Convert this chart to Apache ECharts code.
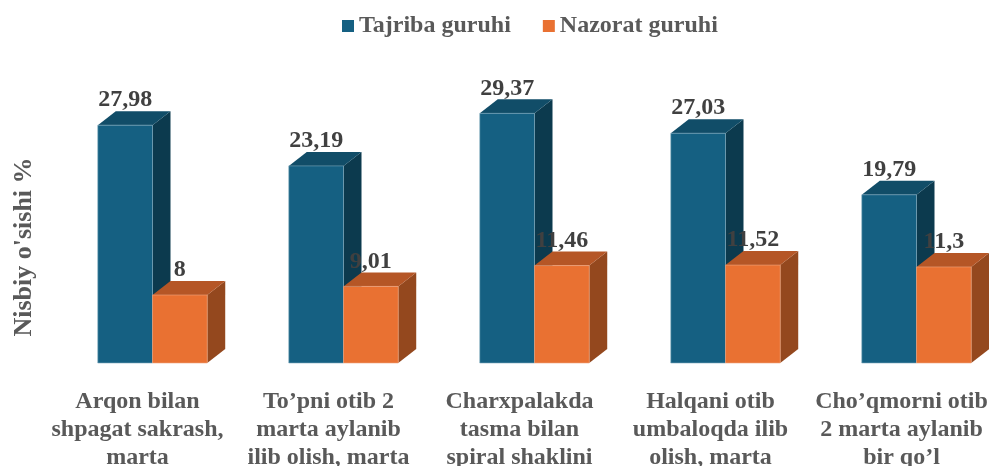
<!DOCTYPE html>
<html lang="en">
<head>
  <meta charset="UTF-8">
  <title>Nisbiy o'sishi</title>
  <script src="https://cdn.jsdelivr.net/npm/echarts@6/dist/echarts.min.js"></script>
  <style>
    html, body { margin: 0; padding: 0; background: #fff; }
    #chart { width: 989px; height: 466px; }
  </style>
</head>
<body>
  <div id="chart"></div>
  <script>
    var categories = [
      'Arqon bilan\nshpagat sakrash,\nmarta',
      'To’pni otib 2\nmarta aylanib\nilib olish, marta',
      'Charxpalakda\ntasma bilan\nspiral shaklini',
      'Halqani otib\numbaloqda ilib\nolish, marta',
      'Cho’qmorni otib\n2 marta aylanib\nbir qo’l'
    ];
    var tajriba = [27.98, 23.19, 29.37, 27.03, 19.79];
    var nazorat = [8, 9.01, 11.46, 11.52, 11.3];
    var tajribaLabels = ['27,98', '23,19', '29,37', '27,03', '19,79'];
    var nazoratLabels = ['8', '9,01', '11,46', '11,52', '11,3'];

    var fontName = '"Liberation Serif", "Times New Roman", serif';

    // box look: front, side and top faces drawn from the axis coords
    function box3d(colors, labels, shift) {
      return function (params, api) {
        var idx = api.value(0);
        var top = api.coord([idx, api.value(1)]);
        var base = api.coord([idx, 0]);
        var w = api.size([1, 0])[0] * 0.2865;
        var x0 = top[0] + shift * w;
        var x1 = x0 + w;
        var dx = 18, dy = 14;
        return {
          type: 'group',
          children: [
            {
              type: 'polygon',
              shape: { points: [[x1, top[1]], [x1 + dx, top[1] - dy], [x1 + dx, base[1] - dy], [x1, base[1]]] },
              style: { fill: colors.side }
            },
            {
              type: 'polygon',
              shape: { points: [[x0, top[1]], [x0 + dx, top[1] - dy], [x1 + dx, top[1] - dy], [x1, top[1]]] },
              style: { fill: colors.top }
            },
            {
              type: 'rect',
              shape: { x: x0, y: top[1], width: w, height: base[1] - top[1] },
              style: { fill: colors.front, stroke: colors.edge, lineWidth: 0.6 }
            },
            {
              type: 'text',
              x: x0 + w / 2,
              y: top[1] - 25,
              style: {
                text: labels[idx],
                fill: '#404040',
                font: 'bold 24px ' + fontName,
                align: 'center',
                verticalAlign: 'middle'
              }
            }
          ]
        };
      };
    }

    function toRows(values) {
      return values.map(function (v, i) { return [i, v]; });
    }

    var myChart = echarts.init(document.getElementById('chart'), null, { renderer: 'canvas' });
    myChart.setOption({
      animation: false,
      backgroundColor: '#fff',
      legend: {
        data: ['Tajriba guruhi', 'Nazorat guruhi'],
        left: 337,
        top: 9,
        icon: 'rect',
        itemWidth: 12,
        itemHeight: 12,
        itemGap: 32,
        textStyle: { fontFamily: fontName, fontWeight: 'bold', fontSize: 24, color: '#595959' }
      },
      grid: { left: 57, right: -23, top: 65.5, bottom: 103, outerBoundsMode: 'none' },
      xAxis: {
        type: 'category',
        data: categories,
        axisLine: { show: false },
        axisTick: { show: false },
        axisLabel: {
          interval: 0,
          margin: 25,
          fontFamily: fontName,
          fontWeight: 'bold',
          fontSize: 24,
          lineHeight: 28,
          color: '#595959',
          padding: [0, 30, 0, 0]
        }
      },
      yAxis: {
        type: 'value',
        min: 0,
        max: 35,
        axisLine: { show: false },
        axisTick: { show: false },
        axisLabel: { show: false },
        splitLine: { show: false }
      },
      graphic: [{
        type: 'text',
        x: 24,
        y: 247,
        rotation: Math.PI / 2,
        style: {
          text: "Nisbiy o'sishi %",
          fill: '#595959',
          font: 'bold 26px ' + fontName,
          align: 'center',
          verticalAlign: 'middle'
        }
      }],
      series: [
        {
          name: 'Tajriba guruhi',
          type: 'custom',
          itemStyle: { color: '#156082' },
          renderItem: box3d({ front: '#156082', side: '#0C3A4E', top: '#114D68', edge: '#7FAABD' }, tajribaLabels, -1),
          encode: { x: 0, y: 1 },
          data: toRows(tajriba)
        },
        {
          name: 'Nazorat guruhi',
          type: 'custom',
          itemStyle: { color: '#E97132' },
          renderItem: box3d({ front: '#E97132', side: '#94481E', top: '#B55626', edge: '#F0A680' }, nazoratLabels, 0),
          encode: { x: 0, y: 1 },
          data: toRows(nazorat)
        }
      ]
    });
  </script>
</body>
</html>
